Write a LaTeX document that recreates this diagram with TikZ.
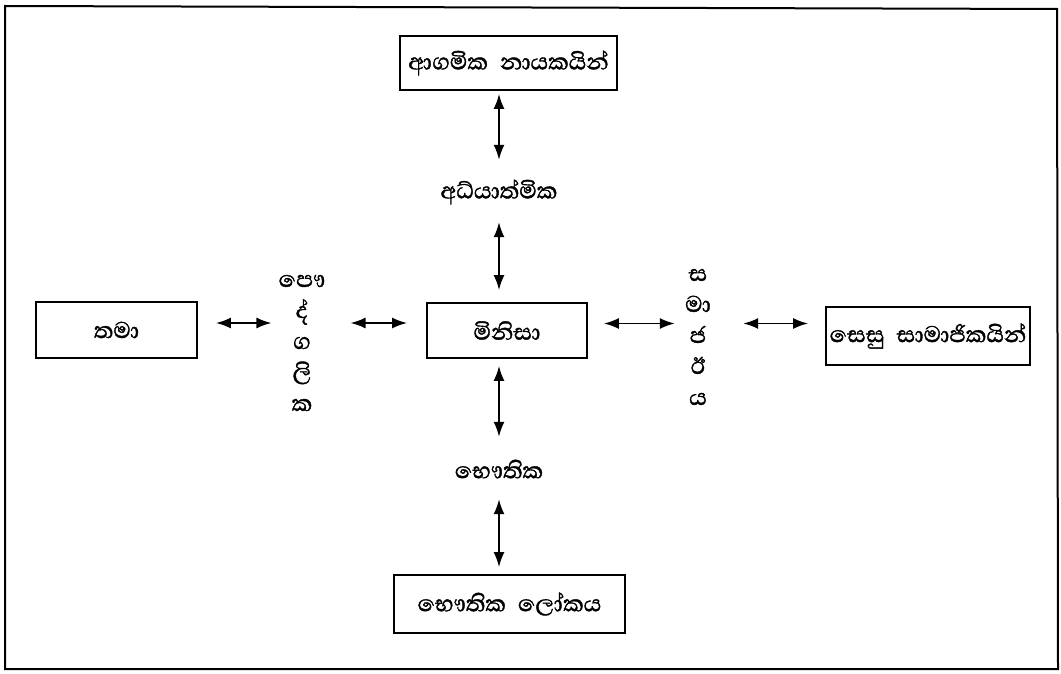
\documentclass[tikz,border=0pt]{standalone}
\usepackage{fontspec}
\newfontfamily\sinhalafont[Script=Sinhala,FakeBold=1.3]{Abhaya Libre}
\usetikzlibrary{arrows.meta}
% fixed line pitch for the stacked letter labels
\newcommand{\stackfont}{\sinhalafont\fontsize{29}{31}\selectfont\lineskiplimit=-100pt\relax}
\begin{document}
\begin{tikzpicture}[x=1pt,y=-1pt,
  every node/.style={font=\sinhalafont\fontsize{29}{31}\selectfont},
  boxnode/.style={draw,line width=1.8pt,inner sep=0pt,anchor=center},
  lbl/.style={inner sep=0pt,minimum height=40pt},
  vlbl/.style={inner sep=0pt,minimum width=30pt,align=center,font=\stackfont},
  dar/.style={line width=1.8pt,{Latex[length=15pt,width=11pt]}-{Latex[length=15pt,width=11pt]}}]
\useasboundingbox (0,0) rectangle (1061,674);
% outer frame
\draw[line width=2pt] (5,6) -- (1057,9) -- (1058,669) -- (5,669) -- cycle;

% boxes
\node[boxnode,minimum width=217pt,minimum height=54pt] (relig) at (508.5,63) {ආගමික\hspace{12pt}නායකයින්};
\node[boxnode,minimum width=160pt,minimum height=55pt] (man) at (507,330.5) {මිනිසා};
\node[boxnode,minimum width=161pt,minimum height=56pt] (self) at (116.5,330) {තමා};
\node[boxnode,minimum width=204pt,minimum height=58pt] (others) at (928,336) {සෙසු\hspace{12pt}සාමාජිකයින්};
\node[boxnode,minimum width=231pt,minimum height=58pt] (world) at (509.5,604) {භෞතික\hspace{12pt}ලෝකය};

% relation labels
\node[lbl] (spirit) at (499,192) {අධ්යාත්මික};
\node[lbl] (phys) at (499,469) {භෞතික};
\node[vlbl] (pers) at (302,343) {පෞ\\ද්\\ග\\ලි\\ක};
\node[vlbl] (soc) at (698,337) {ස\\මා\\ජ\\ඊ\\ය};

% vertical connectors
\draw[dar,shorten <=3pt,shorten >=12pt] (relig.south -| spirit) -- (spirit.north);
\draw[dar,shorten <=10pt,shorten >=12pt] (spirit.south) -- (spirit.south |- man.north);
\draw[dar,shorten <=7pt,shorten >=12pt] (man.south -| phys) -- (phys.north);
\draw[dar,shorten <=10pt,shorten >=7pt] (phys.south) -- (phys.south |- world.north);

% horizontal connectors
\draw[dar,shorten <=18pt,shorten >=7pt] ([yshift=7pt]self.east) -- ([yshift=7pt]self.east -| pers.west);
\draw[dar,shorten <=25pt,shorten >=19pt] ([yshift=7pt]self.east -| pers.east) -- ([yshift=7pt]self.east -| man.west);
\draw[dar,shorten <=16pt,shorten >=8pt] ([yshift=7pt]man.east) -- ([yshift=7pt]man.east -| soc.west);
\draw[dar,shorten <=30pt,shorten >=17pt] ([yshift=7pt]man.east -| soc.east) -- ([yshift=7pt]man.east -| others.west);
\end{tikzpicture}
\end{document}
